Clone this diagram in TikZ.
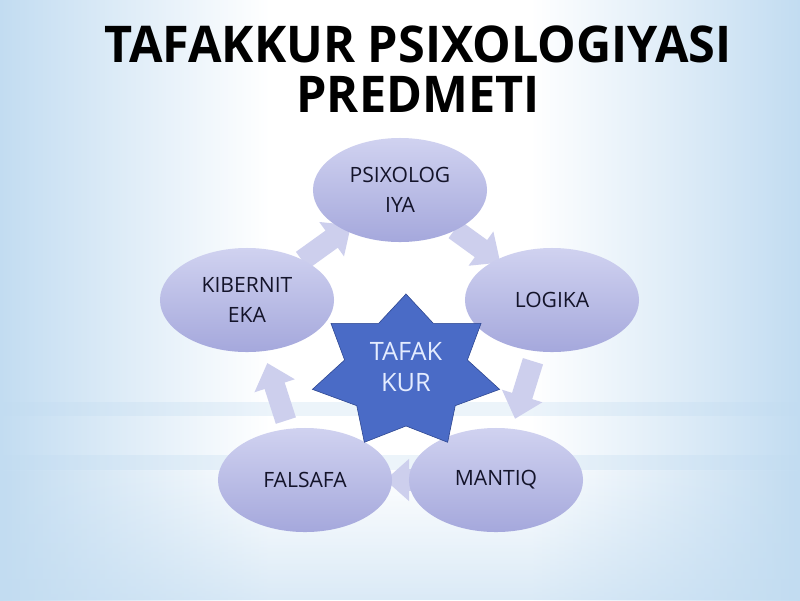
\documentclass[tikz,border=0pt]{standalone}
\usepackage{fontspec}
\setmainfont{Open Sans}
\newfontfamily\headfont{Open Sans}[FakeStretch=0.96]
\usetikzlibrary{calc, arrows.meta, backgrounds, fadings}
\usetikzlibrary{shapes.geometric}
\usepackage{xcolor}
\definecolor{bg}{HTML}{C2DCF1}
\definecolor{e1}{HTML}{D0D2F0}
\definecolor{e2}{HTML}{A5A8DC}
\definecolor{ar}{HTML}{CDCFED}
\definecolor{st}{HTML}{4A6BC6}
\definecolor{stl}{HTML}{2C458F}
\definecolor{sttxt}{HTML}{E4ECFF}
\definecolor{tx}{HTML}{14142A}

\begin{document}
\begin{tikzpicture}[x=0.025cm, y=-0.025cm,
		blob/.style={ellipse, minimum width=4.35cm, minimum height=2.6cm, inner sep=0pt,
				top color=e1, bottom color=e2, text=tx, align=center,
				font=\fontsize{15}{21.5}\selectfont},
		cyc/.style={ar, line width=15pt, -{Triangle[length=17pt, width=29pt]}},
		heading/.style={align=center, text=black, font=\headfont\fontsize{36}{35.6}\selectfont\bfseries}]

	\node[heading] (ttl) at (418, 69) {TAFAKKUR PSIXOLOGIYASI\\PREDMETI};

	\node[blob] (psi) at (400, 190) {PSIXOLOG\\IYA};
	\node[blob] (log) at (552, 300) {LOGIKA};
	\node[blob] (man) at (496, 480) {MANTIQ};
	\node[blob] (fal) at (305, 480) {FALSAFA};
	\node[blob] (kib) at (247, 300) {KIBERNIT\\EKA};

	\begin{scope}[shift={(406, 372)}]
		\filldraw[st, draw=stl, thin] (-90:96 and 78)
		\foreach \k in {0,...,6} {
				-- (-90+\k*360/7+180/7:63 and 54) -- (-90+\k*360/7+360/7:96 and 78)
			} -- cycle;
	\end{scope}
	\node[align=center, text=sttxt, font=\fontsize{18}{22.5}\selectfont] (taf) at (406, 367) {TAFAK\\KUR};

	\begin{scope}[on background layer]
		\fill[white] (0, 0) rectangle (800, 600);
		\shade[left color=bg, right color=white] (0, 0) rectangle (270, 600);
		\shade[left color=white, right color=bg] (530, 0) rectangle (800, 600);
		\fill[bg, path fading=north, fill opacity=0.6] (0, 470) rectangle (800, 600);
		\fill[bg, opacity=0.3] (0, 402) rectangle (800, 416);
		\fill[bg, opacity=0.3] (0, 455) rectangle (800, 470);

		\draw[cyc] ($(kib)!0.36!(psi)$) -- ($(kib)!0.68!(psi)$);
		\draw[cyc] ($(psi)!0.36!(log)$) -- ($(psi)!0.66!(log)$);
		\draw[cyc] ($(log)!0.34!(man)$) -- ($(log)!0.66!(man)$);
		\draw[cyc] ($(man)!0.42!(fal)$) -- ($(man)!0.58!(fal)$);
		\draw[cyc] ($(fal)!0.33!(kib)$) -- ($(fal)!0.65!(kib)$);
	\end{scope}
\end{tikzpicture}
\end{document}
